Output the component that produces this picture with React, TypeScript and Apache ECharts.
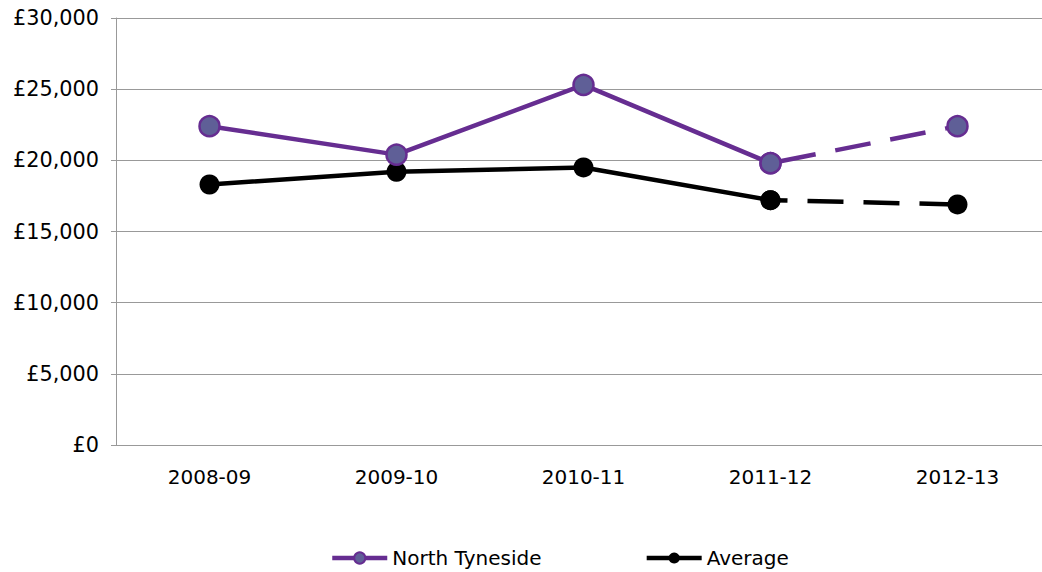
import React, { useEffect, useRef } from "react";
import * as echarts from "echarts";

const categories = ["2008-09", "2009-10", "2010-11", "2011-12", "2012-13"];
const northTyneside = [22400, 20400, 25300, 19800, 22400];
const average = [18300, 19200, 19500, 17200, 16900];
const yTicks = [0, 5000, 10000, 15000, 20000, 25000, 30000];
const solidCount = 4; // points drawn with solid line; last segment dashed

const PURPLE = "#662D91";
const PURPLE_FILL = "#5F5F97";
const FONT = "DejaVu Sans";

function solidPart(arr: number[]) {
  return arr.map((v, i) => (i < solidCount ? v : null));
}
function dashedPart(arr: number[]) {
  return arr.map((v, i) => (i >= solidCount - 1 ? v : null));
}

export default function App() {
  const ref = useRef<HTMLDivElement>(null);
  useEffect(() => {
    if (!ref.current) return;
    const chart = echarts.init(ref.current, undefined, { renderer: "svg" });
    const fmt = (v: number) => "£" + v.toLocaleString("en-GB");
    chart.setOption({
      animation: false,
      textStyle: { fontFamily: FONT },
      grid: { left: 116, top: 18, right: 0, bottom: 127, containLabel: false },
      legend: {
        top: 543,
        left: 325,
        data: ["North Tyneside", "Average"],
        itemWidth: 55,
        itemHeight: 14,
        itemGap: 103,
        lineStyle: { width: 4.5 },
        textStyle: { fontFamily: FONT, fontSize: 20, color: "#000" },
      },
      xAxis: {
        type: "category",
        data: categories,
        boundaryGap: true,
        axisLine: { show: true, lineStyle: { color: "#999", width: 1 } },
        axisTick: { show: false },
        axisLabel: { fontFamily: FONT, fontSize: 20, color: "#000", margin: 22 },
        splitLine: { show: false },
      },
      yAxis: {
        type: "value",
        min: yTicks[0],
        max: yTicks[yTicks.length - 1],
        interval: 5000,
        axisLine: { show: true, lineStyle: { color: "#999", width: 1 } },
        axisTick: { show: true, length: 5, lineStyle: { color: "#999" } },
        axisLabel: { fontFamily: FONT, fontSize: 20.8, color: "#000", margin: 17, formatter: fmt },
        splitLine: { show: true, lineStyle: { color: "#999", width: 1 } },
      },
      series: [
        {
          name: "North Tyneside",
          type: "line",
          data: solidPart(northTyneside),
          symbol: "circle",
          symbolSize: 20,
          lineStyle: { color: PURPLE, width: 4.5 },
          itemStyle: { color: PURPLE_FILL, borderColor: PURPLE, borderWidth: 2.5 },
          z: 3,
        },
        {
          name: "North Tyneside dashed",
          type: "line",
          data: dashedPart(northTyneside),
          symbol: "circle",
          symbolSize: 20,
          lineStyle: { color: PURPLE, width: 4.5, type: [36, 20], dashOffset: -10 },
          itemStyle: { color: PURPLE_FILL, borderColor: PURPLE, borderWidth: 2.5 },
          z: 3,
        },
        {
          name: "Average",
          type: "line",
          data: solidPart(average),
          symbol: "circle",
          symbolSize: 20,
          lineStyle: { color: "#000", width: 4.5 },
          itemStyle: { color: "#000", borderColor: "#000", borderWidth: 0 },
          z: 2,
        },
        {
          name: "Average dashed",
          type: "line",
          data: dashedPart(average),
          symbol: "circle",
          symbolSize: 20,
          lineStyle: { color: "#000", width: 4.5, type: [36, 20], dashOffset: 19 },
          itemStyle: { color: "#000", borderColor: "#000", borderWidth: 0 },
          z: 2,
        },
      ],
    });
    return () => chart.dispose();
  }, []);
  return (
    <div
      style={{
        position: "fixed",
        left: 0,
        top: 0,
        width: 1042,
        height: 572,
        overflow: "hidden",
        background: "#fff",
      }}
    >
      <div ref={ref} style={{ width: 1051, height: 572 }} />
    </div>
  );
}
